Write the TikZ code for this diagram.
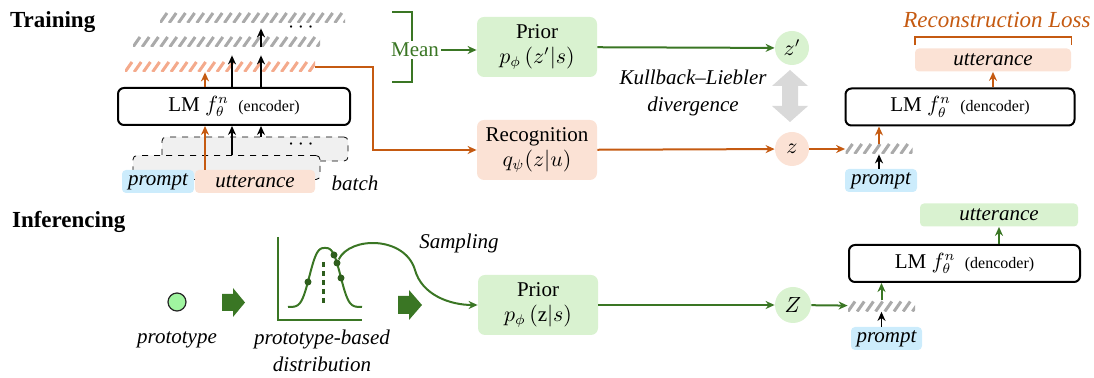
\documentclass[tikz,border=0pt]{standalone}
\usepackage{fontspec}
\setmainfont{Liberation Serif}
\usetikzlibrary{arrows.meta}

\definecolor{darkgreen}{RGB}{58,118,36}
\definecolor{lgreen}{RGB}{217,242,208}
\definecolor{lorange}{RGB}{251,226,213}
\definecolor{burnt}{RGB}{197,90,17}
\definecolor{lblue}{RGB}{204,236,252}
\definecolor{hgray}{RGB}{170,170,170}
\definecolor{horange}{RGB}{244,170,140}
\definecolor{protogreen}{RGB}{160,245,160}

\begin{document}
\begin{tikzpicture}[x=0.5pt,y=-0.5pt,
  every node/.style={font=\fontsize{10.5}{12.5}\selectfont},
  title/.style={anchor=west, font=\fontsize{11.5}{13}\selectfont\bfseries},
  itext/.style={font=\fontsize{10.5}{13.5}\selectfont\itshape, align=center},
  lm/.style={draw, line width=1pt, rounded corners=3pt, minimum width=116pt,
    minimum height=18.5pt, inner sep=0pt},
  blk/.style={rounded corners=3.5pt, align=center, minimum width=60pt,
    minimum height=30pt, inner sep=0pt},
  tag/.style={rounded corners=2pt, inner sep=0pt, minimum height=11.5pt,
    font=\fontsize{10.5}{12.5}\selectfont\itshape},
  lat/.style={circle, inner sep=0pt, minimum size=17pt},
  batch/.style={draw, dashed, fill=gray!12, rounded corners=2pt,
    minimum height=12pt, inner sep=0pt},
  dot/.style={circle, fill=darkgreen!80!black, inner sep=0pt, minimum size=3.5pt},
  hatch/.style={inner sep=0pt, minimum height=5pt, path picture={
    \foreach \k in {-2,...,26}
      \draw[#1, line width=1.5pt]
        ([xshift=\k*4.6pt]path picture bounding box.south west) -- ++(3.5pt,5pt);}},
  gline/.style={draw=darkgreen, line width=1pt, -{Stealth[length=4.5pt,width=4pt]}},
  oline/.style={draw=burnt, line width=1pt, -{Stealth[length=4.5pt,width=4pt]}},
  kline/.style={draw=black, line width=0.9pt, -{Stealth[length=4.5pt,width=4pt]}}]
\useasboundingbox (0,0) rectangle (1094,378);

\node[title] (train) at (3,22) {Training};
\node[hatch=hgray, minimum width=92.5pt] (tbar) at (252.5,18) {};
\node[hatch=hgray, minimum width=93.5pt] (mbar) at (226.5,42) {};
\node[hatch=horange, minimum width=95pt] (obar) at (220,67) {};
\node (tdots) at (301,28) {$\cdots$};
\node[lm] (enc) at (234,106.5) {LM $f_\theta^n$\;\,{\fontsize{8}{9}\selectfont (encoder)}};
\node[batch, minimum width=93pt] (bback) at (255,149) {};
\node (bdots) at (301,145) {$\cdots$};
\node[batch, minimum width=93.5pt] (bfront) at (226.5,167.5) {};
\node[tag, fill=lblue, minimum width=36pt] (prm) at (158,181.5) {prompt};
\node[tag, fill=lorange, minimum width=60pt] (utt) at (255,181.5) {utterance};
\node[itext] (batch) at (355,183) {batch};
\draw[oline] ([xshift=-25pt]utt.north) -- ([xshift=-25pt]utt.north |- enc.south);
\draw[kline] ([xshift=2.75pt]bfront.north) -- ([xshift=2.75pt]bfront.north |- enc.south);
\draw[kline] ([xshift=3pt]bback.north) -- ([xshift=3pt]bback.north |- enc.south);
\draw[oline] ([xshift=-14.5pt]enc.north) -- ([xshift=-14.5pt]enc.north |- obar.south);
\draw[kline, shorten >=4pt] ([xshift=-1pt]enc.north) -- ([xshift=-1pt]enc.north |- mbar.south);
\draw[kline, shorten >=4pt] ([xshift=13.5pt]enc.north) -- ([xshift=13.5pt]enc.north |- mbar.south);
\draw[kline, shorten >=2.5pt] ([xshift=13.5pt]enc.north |- mbar.south) -- ([xshift=13.5pt]enc.north |- tbar.south);

\draw[darkgreen, line width=0.9pt] (392,12) -- (412,12) -- (412,82) -- (392,82);
\node[fill=white, text=darkgreen, inner sep=1pt] (mean) at (415,50) {Mean};
\node[blk, fill=lgreen] (prior) at (537,47) {Prior\\$p_\phi\,(z'|s)$};
\node[blk, fill=lorange] (recog) at (537,150) {Recognition\\$q_\psi(z|u)$};
\node[lat, fill=lgreen] (zp) at (792,48) {$z'$};
\node[lat, fill=lorange] (zc) at (792,149) {$z$};
\fill[gray!30] (790,70) -- (808,86) -- (798,86) -- (798,106) -- (808,106) -- (790,122)
  -- (772,106) -- (782,106) -- (782,86) -- (772,86) -- cycle;
\node[itext] (kl) at (693,93) {Kullback--Liebler\\divergence};
\coordinate (bend) at (373,67);
\draw[gline] (mean.east) -- (mean.east -| prior.west);
\draw[gline] (prior) -- (zp);
\draw[oline] (obar.east) -- (bend) |- (recog.west);
\draw[oline] (recog) -- (zc);

\node[hatch=hgray, minimum width=33.5pt] (dbar) at (879,149) {};
\node[tag, fill=lblue, minimum width=36pt] (dprm) at (881,180.5) {prompt};
\node[lm, minimum width=114.5pt] (dec) at (960,107) {LM $f_\theta^n$\;\,{\fontsize{8}{9}\selectfont (dencoder)}};
\node[tag, fill=lorange, minimum width=78pt] (dutt) at (993,60) {utterance};
\node[itext, text=burnt, font=\fontsize{11.5}{13}\selectfont\itshape] (recon) at (997,20) {Reconstruction Loss};
\draw[burnt, line width=0.9pt] ([yshift=1.5pt]dutt.north west) -- ++(0,-8) -| ([yshift=1.5pt]dutt.north east);
\draw[oline] (zc) -- (dbar);
\draw[oline] (dbar.north) -- (dbar.north |- dec.south);
\draw[kline] (dbar.south |- dprm.north) -- (dbar.south);
\draw[oline] (dutt.south |- dec.north) -- (dutt.south);

\node[title] (infer) at (5,222) {Inferencing};
\node[circle, draw=black!85, fill=protogreen, minimum size=9pt, inner sep=0pt,
  line width=0.6pt] (proto) at (177,302) {};
\node[itext] (protolab) at (177,340) {prototype};
\fill[darkgreen] (222,294) -- (233,294) -- (233,288) -- (245,302.5) -- (233,317)
  -- (233,311) -- (222,311) -- cycle;
\draw[darkgreen, line width=1pt] (278,237) -- (278,320) -- (362,320);
\draw[darkgreen!80!black, line width=1.5pt, dash pattern=on 2.5pt off 2pt] (323,262) -- (323,304);
\draw[darkgreen, line width=1pt] plot[domain=288:362, samples=80]
  (\x, {307-59*exp(-(abs(\x-325)/18)*(abs(\x-325)/18)*(abs(\x-325)/18))});
\foreach \n/\px/\py in {d1/308/282, d2/334/255, d3/337/263, d4/341/278}
  \node[dot] (\n) at (\px,\py) {};
\node[itext] (distlab) at (322,351) {prototype-based\\distribution};
\node[itext] (samp) at (459,243) {Sampling};
\fill[darkgreen] (398,296) -- (409,296) -- (409,290) -- (422,305) -- (409,320)
  -- (409,314) -- (398,314) -- cycle;
\node[blk, fill=lgreen] (iprior) at (538,305) {Prior\\$p_\phi\,(\mathrm{z}|s)$};
\draw[gline] (d3) .. controls (350,236) and (405,236) .. (415,270)
  .. controls (422,295) and (450,305) .. (iprior.west);
\node[lat, fill=lgreen, minimum size=18pt] (zi) at (793,305) {$Z$};
\node[hatch=hgray, minimum width=33.5pt, minimum height=5.5pt] (ibar) at (881.5,306) {};
\node[tag, fill=lblue, minimum width=35.5pt] (iprm) at (886.5,338.5) {prompt};
\node[lm, minimum width=115.5pt] (idec) at (964.5,263.5) {LM $f_\theta^n$\;\,{\fontsize{8}{9}\selectfont (dencoder)}};
\node[tag, fill=lgreen, minimum width=79pt] (iutt) at (999,215) {utterance};
\draw[gline] (iprior) -- (zi);
\draw[gline] (zi) -- (ibar);
\draw[gline] (ibar.north) -- (ibar.north |- idec.south);
\draw[kline] (ibar.south |- iprm.north) -- (ibar.south);
\draw[gline] (iutt.south |- idec.north) -- (iutt.south);
\end{tikzpicture}
\end{document}
